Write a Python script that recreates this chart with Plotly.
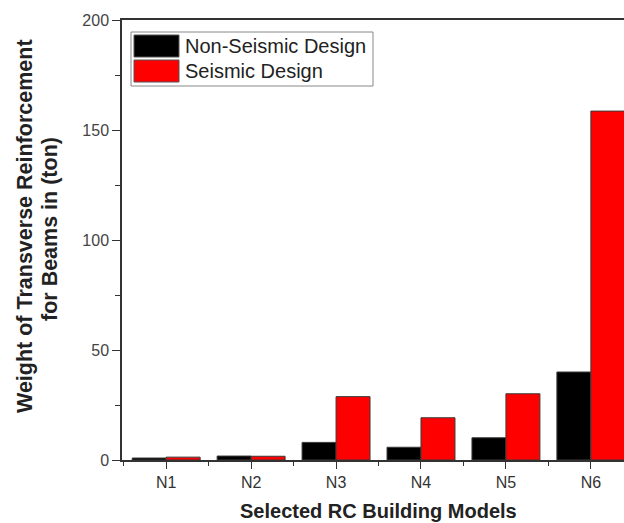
import plotly.graph_objects as go

# Building models and transverse reinforcement weights (ton)
models = ["N1", "N2", "N3", "N4", "N5", "N6"]
non_seismic = [0.9, 1.8, 8.0, 5.8, 10.1, 40.0]
seismic = [1.3, 1.7, 28.8, 19.2, 30.1, 158.6]
series_names = ["Non-Seismic Design", "Seismic Design"]
series_colors = ["#000000", "#ff0000"]
y_ticks = [0, 50, 100, 150, 200]

W, H = 624, 523
L, T, B, R = 122, 20, 63, 0
PW, PH = W - L - R, H - T - B

FONT = "Liberation Sans, Arial, sans-serif"
AXIS_COL = "#333333"
TITLE_COL = "#222222"

xs = list(range(len(models)))

fig = go.Figure()
for name, vals, col in zip(series_names, [non_seismic, seismic], series_colors):
    fig.add_trace(go.Bar(
        x=xs, y=vals, name=name,
        marker=dict(color=col, line=dict(color="#3a3a3a", width=1)),
        showlegend=False,
    ))


def px_x(p):
    return (p - L) / PW


def px_y(p):
    return (H - B - p) / PH


# Legend box drawn with shapes and text
shapes = [dict(type="rect", xref="paper", yref="paper",
               x0=px_x(131), x1=px_x(373), y0=px_y(86), y1=px_y(32),
               line=dict(color="#888888", width=1), fillcolor="white")]
annotations = []
for i, (name, col) in enumerate(zip(series_names, series_colors)):
    top = 35 + i * 25
    shapes.append(dict(type="rect", xref="paper", yref="paper",
                       x0=px_x(134), x1=px_x(179), y0=px_y(top + 22), y1=px_y(top),
                       line=dict(color="#555555", width=1), fillcolor=col))
    annotations.append(dict(xref="paper", yref="paper", x=px_x(183), y=px_y(top + 11),
                            text=name, showarrow=False, xanchor="left", yanchor="middle",
                            font=dict(family=FONT, size=20, color=TITLE_COL)))

# Axis titles
annotations.append(dict(xref="paper", yref="paper", x=px_x(378), y=px_y(511),
                        text="<b>Selected RC Building Models</b>", showarrow=False,
                        xanchor="center", yanchor="middle",
                        font=dict(family=FONT, size=20, color=TITLE_COL)))
y_title_lines = ["Weight of Transverse Reinforcement", "for Beams in (ton)"]
for line, cx, cy in zip(y_title_lines, [25, 50], [226, 229]):
    annotations.append(dict(xref="paper", yref="paper", x=px_x(cx), y=px_y(cy),
                            text="<b>" + line + "</b>", showarrow=False, textangle=-90,
                            xanchor="center", yanchor="middle",
                            font=dict(family=FONT, size=21.5, color=TITLE_COL)))

fig.update_layout(
    width=W, height=H,
    margin=dict(l=L, r=R, t=T, b=B, pad=0),
    paper_bgcolor="white", plot_bgcolor="white",
    barmode="group", bargap=0.2, bargroupgap=0,
    shapes=shapes, annotations=annotations,
    font=dict(family=FONT, color=AXIS_COL),
    xaxis=dict(
        range=[-0.52, 5.39], tickvals=xs, ticktext=models,
        showline=True, linecolor=AXIS_COL, linewidth=1.5, mirror=True,
        ticks="outside", ticklen=7, tickwidth=1.2, tickcolor=AXIS_COL,
        tickfont=dict(family=FONT, size=16, color="#333333"),
        minor=dict(tickvals=[x - 0.5 for x in xs] + [len(xs) - 0.5], ticks="outside",
                   ticklen=4, tickwidth=1.2, tickcolor=AXIS_COL),
        showgrid=False, zeroline=False,
    ),
    yaxis=dict(
        range=[0, 200], tickvals=y_ticks,
        showline=True, linecolor=AXIS_COL, linewidth=1.5,
        ticks="outside", ticklen=8, tickwidth=1.2, tickcolor=AXIS_COL,
        tickfont=dict(family=FONT, size=16, color="#444444"),
        minor=dict(dtick=25, ticks="outside", ticklen=5, tickwidth=1.2, tickcolor=AXIS_COL),
        showgrid=False, zeroline=False,
    ),
)

fig.write_html("out.html")
